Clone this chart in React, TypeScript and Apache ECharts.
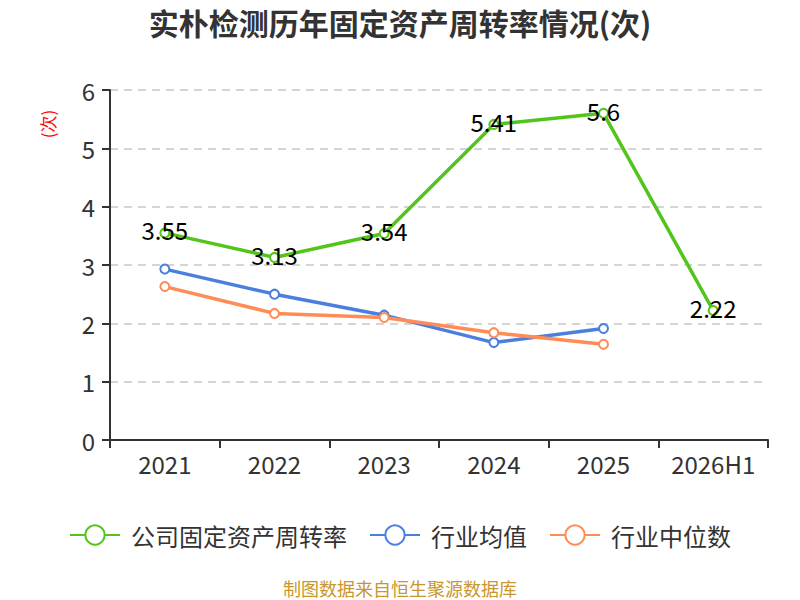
import React, { useEffect, useRef } from "react";
import * as echarts from "echarts";

const categories = ["2021", "2022", "2023", "2024", "2025", "2026H1"];
const companySeries = [3.55, 3.13, 3.54, 5.41, 5.6, 2.22];
const industryAvg = [2.93, 2.5, 2.14, 1.67, 1.91, null];
const industryMedian = [2.63, 2.17, 2.1, 1.84, 1.64, null];
const yTicks = { min: 0, max: 6, interval: 1 };

const FONT = "'Noto Sans CJK SC', 'Noto Sans', sans-serif";

export default function App() {
  const ref = useRef<HTMLDivElement>(null);
  useEffect(() => {
    document.body.style.margin = "0";
    if (!ref.current) return;
    const chart = echarts.init(ref.current, undefined, { renderer: "svg" });
    chart.setOption({
      animation: false,
      backgroundColor: "#ffffff",
      textStyle: { fontFamily: FONT },
      title: {
        text: "实朴检测历年固定资产周转率情况(次)",
        left: "center",
        top: 2,
        textStyle: { fontSize: 30, fontWeight: "bold", color: "#333", fontFamily: FONT },
      },
      graphic: [
        {
          type: "text",
          x: 47,
          y: 124,
          rotation: Math.PI / 2,
          style: {
            text: "(次)",
            fill: "#ff0000",
            fontSize: 17,
            fontFamily: FONT,
            textAlign: "center",
            textVerticalAlign: "middle",
          },
        },
        {
          type: "text",
          x: 400,
          y: 588,
          style: {
            text: "制图数据来自恒生聚源数据库",
            fill: "#c9962b",
            fontSize: 18,
            fontFamily: FONT,
            textAlign: "center",
            textVerticalAlign: "middle",
          },
        },
      ],
      legend: {
        top: 518,
        left: "center",
        itemWidth: 50,
        itemHeight: 24,
        itemGap: 22,
        textStyle: { fontSize: 24, color: "#333", fontFamily: FONT, padding: [0, 0, 0, 6] },
        data: ["公司固定资产周转率", "行业均值", "行业中位数"],
      },
      grid: { left: 110, right: 32, top: 90, bottom: 160 },
      xAxis: {
        type: "category",
        data: categories,
        boundaryGap: true,
        axisLine: { lineStyle: { color: "#333", width: 2 } },
        axisTick: { show: true, length: 8, lineStyle: { color: "#333", width: 2 } },
        axisLabel: { fontSize: 24, color: "#333", margin: 11, fontFamily: FONT },
      },
      yAxis: {
        type: "value",
        min: yTicks.min,
        max: yTicks.max,
        interval: yTicks.interval,
        axisLine: { show: true, lineStyle: { color: "#333", width: 2 } },
        axisTick: { show: true, length: 8, lineStyle: { color: "#333", width: 2 } },
        axisLabel: { fontSize: 24, color: "#333", margin: 15, fontFamily: FONT },
        splitLine: { lineStyle: { color: "#c8c8c8", type: [8, 6], width: 1.5 } },
      },
      series: [
        {
          name: "公司固定资产周转率",
          type: "line",
          data: companySeries,
          color: "#52c41a",
          symbol: "emptyCircle",
          symbolSize: 9,
          lineStyle: { width: 3.5 },
          label: {
            show: true,
            position: "inside",
            offset: [0, -3],
            fontSize: 24,
            color: "#000",
            fontFamily: FONT,
          },
          z: 3,
        },
        {
          name: "行业均值",
          type: "line",
          data: industryAvg,
          color: "#4a7fe0",
          symbol: "emptyCircle",
          symbolSize: 9,
          lineStyle: { width: 3.5 },
        },
        {
          name: "行业中位数",
          type: "line",
          data: industryMedian,
          color: "#ff8c55",
          symbol: "emptyCircle",
          symbolSize: 9,
          lineStyle: { width: 3.5 },
        },
      ],
    });
    return () => chart.dispose();
  }, []);
  return <div ref={ref} style={{ width: 800, height: 600 }} />;
}
